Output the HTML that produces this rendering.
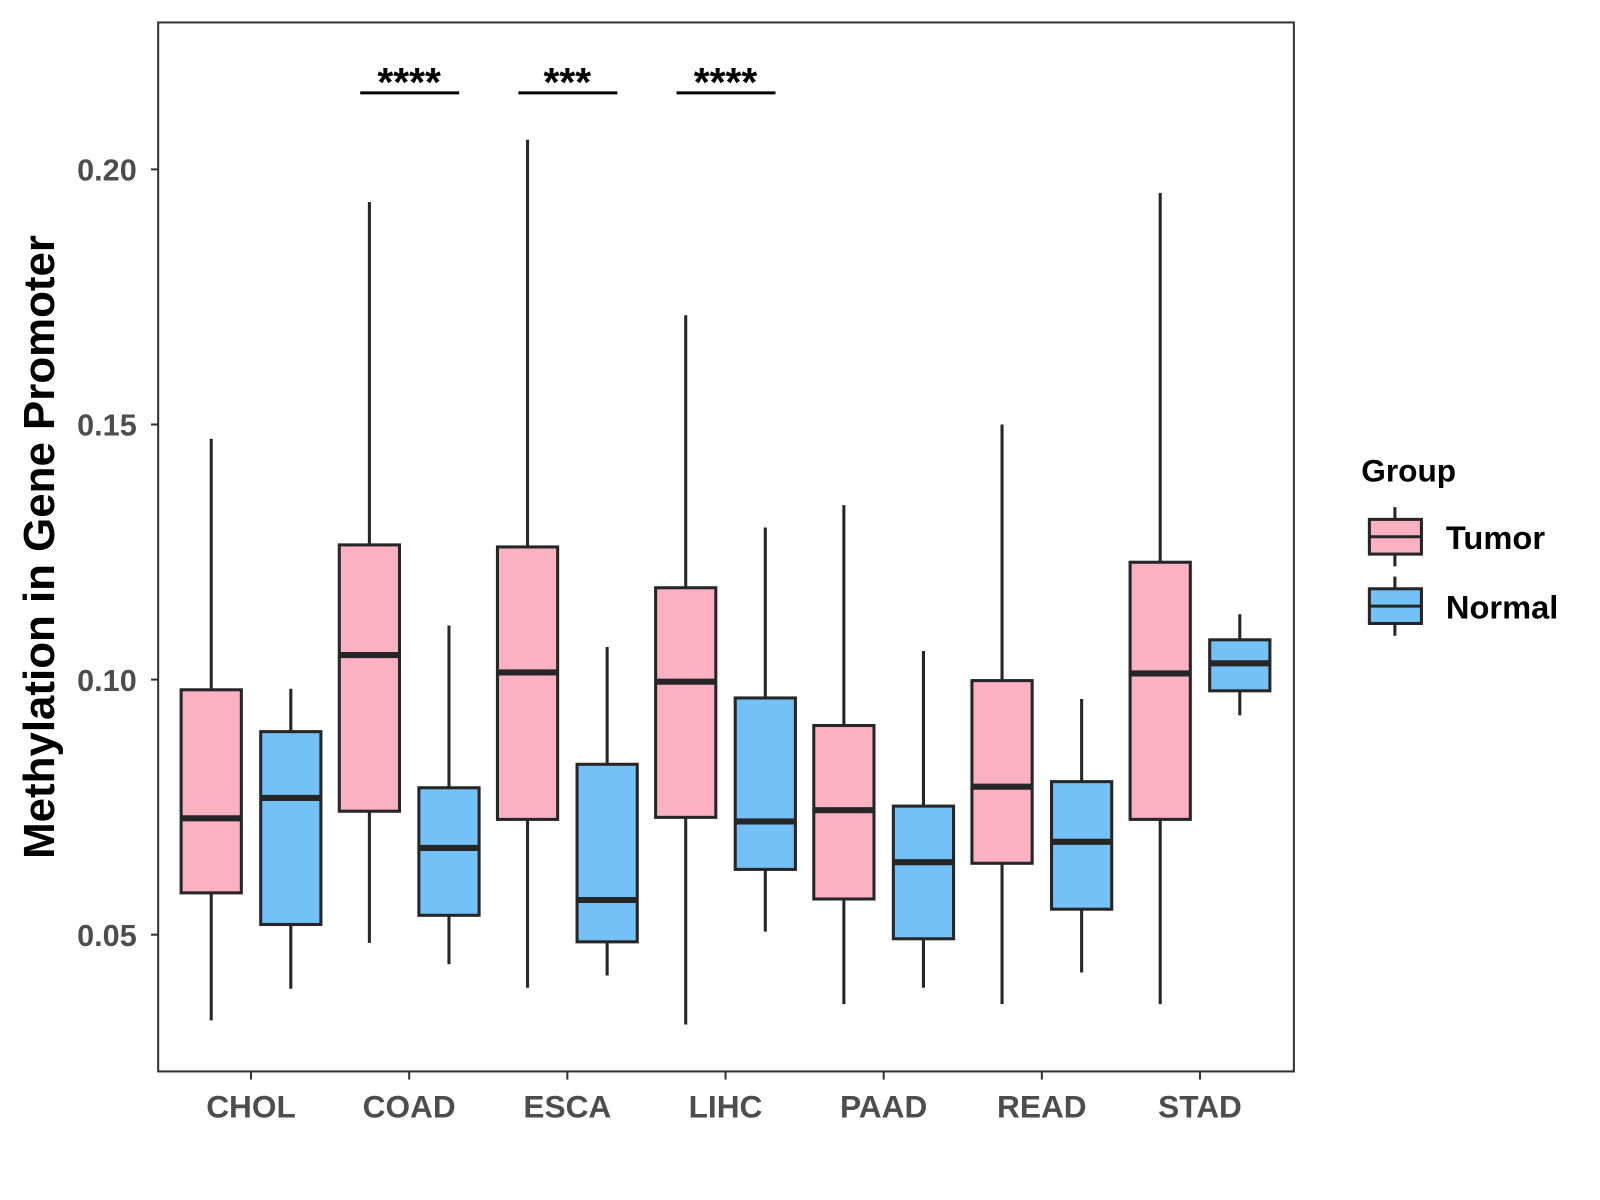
<!DOCTYPE html>
<html><head><meta charset="utf-8"><style>
html,body{margin:0;padding:0;background:#fff;}
svg{display:block;}
text{font-family:"Liberation Sans",Arial,sans-serif;font-weight:bold;}
</style></head><body>
<svg id="chart" width="1600" height="1200" viewBox="0 0 1568 1176">
<rect x="0" y="0" width="1568" height="1176" fill="#fff"/>
<g id="plot"></g>
<rect x="155" y="22" width="1113" height="1028" fill="none" stroke="#333" stroke-width="2"/>
<text transform="translate(53,536) rotate(-90)" text-anchor="middle" font-size="43" fill="#000">Methylation in Gene Promoter</text>
<g>
<text x="1334" y="472" font-size="31" fill="#000">Group</text>
<g>
<line x1="1367" y1="497" x2="1367" y2="555" stroke="#262626" stroke-width="3"/>
<rect x="1342" y="509" width="51" height="34" fill="#FCB1C3" stroke="#262626" stroke-width="3"/>
<line x1="1342" y1="526" x2="1393" y2="526" stroke="#262626" stroke-width="3"/>
<text x="1417" y="538" font-size="32" fill="#000">Tumor</text>
</g>
<g>
<line x1="1367" y1="565" x2="1367" y2="623" stroke="#262626" stroke-width="3"/>
<rect x="1342" y="577" width="51" height="34" fill="#74C1F7" stroke="#262626" stroke-width="3"/>
<line x1="1342" y1="594" x2="1393" y2="594" stroke="#262626" stroke-width="3"/>
<text x="1417" y="606" font-size="32" fill="#000">Normal</text>
</g>
</g>
</svg>
<script>
const categories = ["CHOL","COAD","ESCA","LIHC","PAAD","READ","STAD"];
// [whiskerHigh, q3, median, q1, whiskerLow]
const tumorStats = [
 [0.1472,0.0980,0.0728,0.0582,0.0332],
 [0.1936,0.1264,0.1048,0.0742,0.0484],
 [0.2058,0.1260,0.1014,0.0726,0.0396],
 [0.1714,0.1180,0.0996,0.0730,0.0324],
 [0.1342,0.0910,0.0744,0.0570,0.0364],
 [0.1500,0.0998,0.0790,0.0640,0.0364],
 [0.1954,0.1230,0.1012,0.0726,0.0364]
];
const normalStats = [
 [0.0982,0.0898,0.0768,0.0520,0.0394],
 [0.1106,0.0788,0.0670,0.0538,0.0442],
 [0.1064,0.0834,0.0568,0.0486,0.0420],
 [0.1298,0.0964,0.0722,0.0628,0.0506],
 [0.1056,0.0752,0.0642,0.0492,0.0396],
 [0.0962,0.0800,0.0682,0.0550,0.0426],
 [0.1128,0.1078,0.1032,0.0978,0.0930]
];
const yTicks = [0.05,0.10,0.15,0.20];
const yTickLabels = ["0.05","0.10","0.15","0.20"];
const sigCategories = ["COAD","ESCA","LIHC"];
const sigLabels = ["****","***","****"];
const sigValue = 0.2150;

const NS="http://www.w3.org/2000/svg";
const g=document.getElementById('plot');
function y(v){return 916-(v-0.05)*5000;}
function x(i){return 246+i*155;}
function mk(tag,attrs,parent){const e=document.createElementNS(NS,tag);for(const k in attrs)e.setAttribute(k,attrs[k]);(parent||g).appendChild(e);return e;}

yTicks.forEach((t,i)=>{
 const tk=mk('line',{x1:148,x2:155,y1:y(t),y2:y(t),stroke:'#333','stroke-width':2});
 
 
 const tl=mk('text',{x:134,y:y(t)+11,'text-anchor':'end','font-size':30,fill:'#4d4d4d'});
 tl.textContent=yTickLabels[i];
 
 
});
categories.forEach((c,i)=>{
 const tk=mk('line',{x1:x(i),x2:x(i),y1:1050,y2:1058,stroke:'#333','stroke-width':2});
 
 
 const tl=mk('text',{x:x(i),y:1095,'text-anchor':'middle','font-size':31,fill:'#4d4d4d'});
 tl.textContent=c;
 
 
});
function box(cx,s,fill,name){
 const grp=mk('g',{});
 
 
 mk('line',{x1:cx,x2:cx,y1:y(s[0]),y2:y(s[4]),stroke:'#262626','stroke-width':3},grp);
 mk('rect',{x:cx-29.5,y:y(s[1]),width:59,height:y(s[3])-y(s[1]),fill:fill,stroke:'#262626','stroke-width':3},grp);
 mk('line',{x1:cx-29.5,x2:cx+29.5,y1:y(s[2]),y2:y(s[2]),stroke:'#262626','stroke-width':6},grp);
}
categories.forEach((c,i)=>{
 box(x(i)-39,tumorStats[i],'#FCB1C3','box-tumor-'+c.toLowerCase());
 box(x(i)+39,normalStats[i],'#74C1F7','box-normal-'+c.toLowerCase());
});
sigCategories.forEach((c,k)=>{
 const i=categories.indexOf(c);
 const l=mk('line',{x1:x(i)-48,x2:x(i)+49,y1:y(sigValue),y2:y(sigValue),stroke:'#000','stroke-width':3});
 
 
 const t=mk('text',{x:x(i),y:y(sigValue)+3,'text-anchor':'middle','font-size':40,fill:'#000'});
 t.textContent=sigLabels[k];
 
 
});
</script>
</body></html>
